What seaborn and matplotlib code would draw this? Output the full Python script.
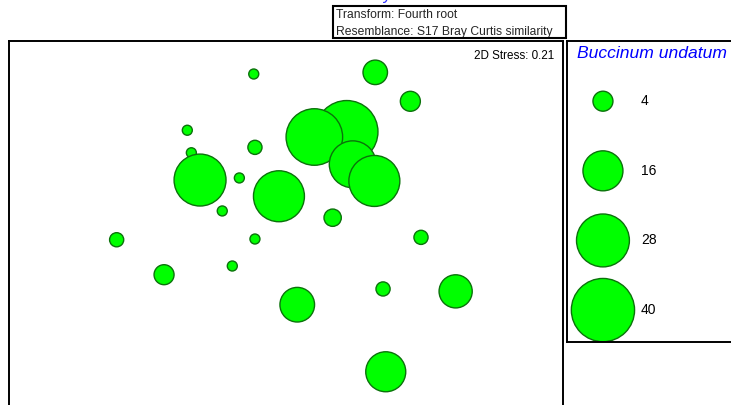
import numpy as np
import pandas as pd
import matplotlib
matplotlib.use("Agg")
import matplotlib.pyplot as plt
from matplotlib.patches import Rectangle
import seaborn as sns

# ---- data (nMDS coordinates and Buccinum undatum abundance) ----
mds_x = [-0.215, 0.595, 0.829, -0.658, -0.207, -0.631, 0.405, 0.189, 0.445, 0.589,
         -0.573, -0.311, -0.047, -0.425, 0.311, -1.129, -0.207, 0.900, -0.813, -0.358,
         0.075, 0.647, 1.131, 0.665]
mds_y = [1.040, 1.051, 0.858, 0.665, 0.551, 0.515, 0.655, 0.620, 0.438, 0.327,
         0.333, 0.347, 0.225, 0.127, 0.082, -0.065, -0.060, -0.049, -0.298, -0.240,
         -0.498, -0.393, -0.409, -0.945]
abundance = [1, 6, 4, 1, 2, 1, 39, 32, 22, 26,
             27, 1, 26, 1, 3, 2, 1, 2, 4, 1,
             12, 2, 11, 16]
legend_values = [4, 16, 28, 40]
legend_labels = ["4", "16", "28", "40"]
species = "Buccinum undatum"
stress_label = "2D Stress: 0.21"
info_lines = ["Transform: Fourth root", "Resemblance: S17 Bray Curtis similarity"]
title_text = "Non-metric MDS of benthic community with Buccinum undatum abundance"

df = pd.DataFrame({"x": mds_x, "y": mds_y, "n": abundance})
leg = pd.DataFrame({"n": legend_values})

sns.set_style("white")
plt.rcParams["font.family"] = ["Liberation Sans", "DejaVu Sans"]

W, H = 731, 405
fig = plt.figure(figsize=(W / 100, H / 100), dpi=100)

def fx(px):
    return px / W

def fy(py):
    return 1 - py / H

FILL = "#00ff00"
EDGE = "#0b720b"
K = 51.8  # pt^2 per abundance unit
smax = K * 40

# main ordination panel
ax = fig.add_axes([fx(9), fy(430), fx(563) - fx(9), fy(41) - fy(430)])
sns.scatterplot(data=df, x="x", y="y", size="n", sizes=(0, smax), size_norm=(0, 40),
                color=FILL, edgecolor=EDGE, linewidth=1.0, alpha=1, legend=False, ax=ax)
ax.set_xlim(-1.8467, 1.8467)
ax.set_ylim(-1.3333, 1.26)
ax.set_xticks([]); ax.set_yticks([])
ax.set_xlabel(""); ax.set_ylabel("")
for s in ax.spines.values():
    s.set_visible(True); s.set_color("black"); s.set_linewidth(1.4)
ax.text(0.985, 0.962, stress_label, transform=ax.transAxes, ha="right", va="center",
        fontsize=8.4, color="black")

# bubble key panel
lax = fig.add_axes([fx(567), fy(342), fx(745) - fx(567), fy(41) - fy(342)])
leg["x"] = 0.202
leg["y"] = 0.80 - 0.2313 * np.arange(len(legend_values))
sns.scatterplot(data=leg, x="x", y="y", size="n", sizes=(0, smax), size_norm=(0, 40),
                color=FILL, edgecolor=EDGE, linewidth=1.0, alpha=1, legend=False, ax=lax)
lax.set_xlim(0, 1); lax.set_ylim(0, 1)
lax.set_xticks([]); lax.set_yticks([])
lax.set_xlabel(""); lax.set_ylabel("")
for s in lax.spines.values():
    s.set_visible(True); s.set_color("black"); s.set_linewidth(1.4)
for yv, lab in zip(leg["y"], legend_labels):
    lax.text(0.415, yv, lab, ha="left", va="center", fontsize=10, color="black")
lax.text(0.058, 0.957, species, ha="left", va="center", fontsize=12.6, style="italic",
         color="#0000ff")

# info box
fig.patches.append(Rectangle((fx(332.5), fy(37.5)), fx(565.5) - fx(332.5), fy(5.5) - fy(37.5),
                             transform=fig.transFigure, fill=False, edgecolor="black",
                             linewidth=1.5, zorder=5))
fig.text(fx(336), fy(15), info_lines[0], ha="left", va="center", fontsize=8.7)
fig.text(fx(336), fy(31.5), info_lines[1], ha="left", va="center", fontsize=8.7)

# title (cropped at the top edge, as in the reference)
fig.text(fx(383), fy(0.3), title_text, ha="center", va="baseline", fontsize=12.5,
         color="#3333ff")

fig.savefig("out.png", dpi=100)
